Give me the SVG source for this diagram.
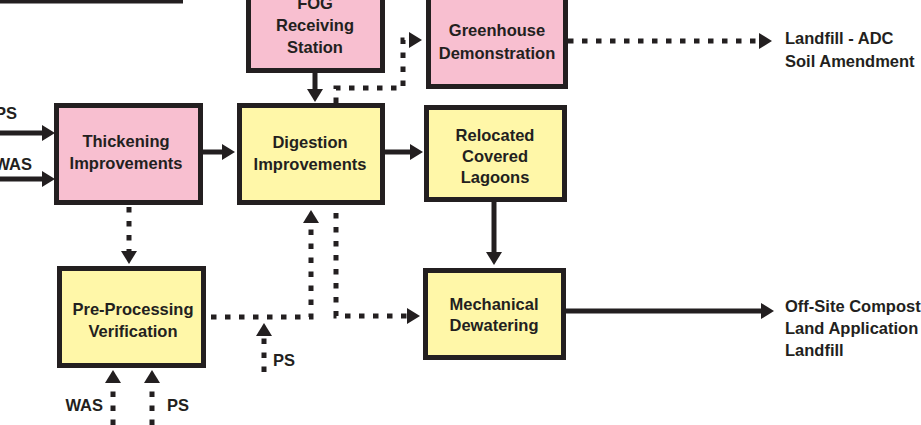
<svg xmlns="http://www.w3.org/2000/svg" width="921" height="425" viewBox="0 0 921 425">
<style>
.box{stroke:#231f20;stroke-width:5}
.pink{fill:#f8bfd0}
.yel{fill:#fff7a8}
.wht{fill:#ffffff}
text{font-family:"Liberation Sans",Arial,sans-serif;font-weight:bold;font-size:16.5px;fill:#231f20}
.c{text-anchor:middle}
.e{text-anchor:end}
.s{fill:none;stroke:#231f20;stroke-width:5;marker-end:url(#ah)}
.d{fill:none;stroke:#231f20;stroke-width:5;stroke-dasharray:5.5 8.5;marker-end:url(#ah)}
</style>
<defs>
<marker id="ah" markerUnits="userSpaceOnUse" viewBox="0 -8 13 16" refX="1" refY="0" markerWidth="13" markerHeight="16" orient="auto">
<path d="M0,-8 L13,0 L0,8 z" fill="#231f20"/>
</marker>
</defs>
<rect width="921" height="425" fill="#ffffff"/>
<g id="topbox"><rect class="box wht" x="-10" y="-10" width="190.5" height="11"/></g>
<g id="fog"><rect class="box pink" x="248.5" y="-10" width="134" height="80.5"/>
<text class="c" x="315" y="9">FOG</text><text class="c" x="315" y="31">Receiving</text><text class="c" x="315" y="53">Station</text></g>
<g id="greenhouse"><rect class="box pink" x="428.5" y="-10" width="137" height="96.5"/>
<text class="c" x="497" y="36">Greenhouse</text><text class="c" x="497" y="59">Demonstration</text></g>
<g id="thickening"><rect class="box pink" x="56.5" y="105.5" width="144" height="97"/>
<text class="c" x="126" y="147">Thickening</text><text class="c" x="126" y="169">Improvements</text></g>
<g id="digestion"><rect class="box yel" x="239.5" y="105.5" width="143" height="97"/>
<text class="c" x="310" y="148">Digestion</text><text class="c" x="310" y="170">Improvements</text></g>
<g id="lagoons"><rect class="box yel" x="426.5" y="107.5" width="138" height="92"/>
<text class="c" x="495" y="141">Relocated</text><text class="c" x="495" y="162">Covered</text><text class="c" x="495" y="183">Lagoons</text></g>
<g id="dewatering"><rect class="box yel" x="425.5" y="270.5" width="138" height="87"/>
<text class="c" x="494" y="310">Mechanical</text><text class="c" x="494" y="331">Dewatering</text></g>
<g id="preprocessing"><rect class="box yel" x="59.5" y="268.5" width="144" height="97"/>
<text class="c" x="133" y="315">Pre-Processing</text><text class="c" x="133" y="337">Verification</text></g>
<g id="connectors">
<path class="s" d="M-5,133 H43"/>
<path class="s" d="M-5,179 H43"/>
<path class="s" d="M203,152 H223"/>
<path class="s" d="M315,73 V90"/>
<path class="s" d="M385,152 H411"/>
<path class="s" d="M494,202 V253"/>
<path class="s" d="M566,311 H762"/>
<path class="d" d="M336,103 V88 H403 V40 H410"/>
<path class="d" d="M568,41 H760"/>
<path class="d" d="M129,207 V252"/>
<path class="d" d="M211,317 H311 V222"/>
<path class="d" d="M264,372 V335"/>
<path class="d" d="M336,213 V316 H408"/>
<path class="d" d="M113,425 V382"/>
<path class="d" d="M152,425 V382"/>
</g>
<g id="labels">
<text class="e" x="17" y="119">PS</text>
<text class="e" x="32" y="170">WAS</text>
<text x="273" y="366">PS</text>
<text class="e" x="103" y="411">WAS</text>
<text x="167" y="411">PS</text>
<text x="785" y="44">Landfill - ADC</text>
<text x="785" y="67">Soil Amendment</text>
<text x="785" y="312">Off-Site Compost</text>
<text x="785" y="334">Land Application</text>
<text x="785" y="356">Landfill</text>
</g>
</svg>
